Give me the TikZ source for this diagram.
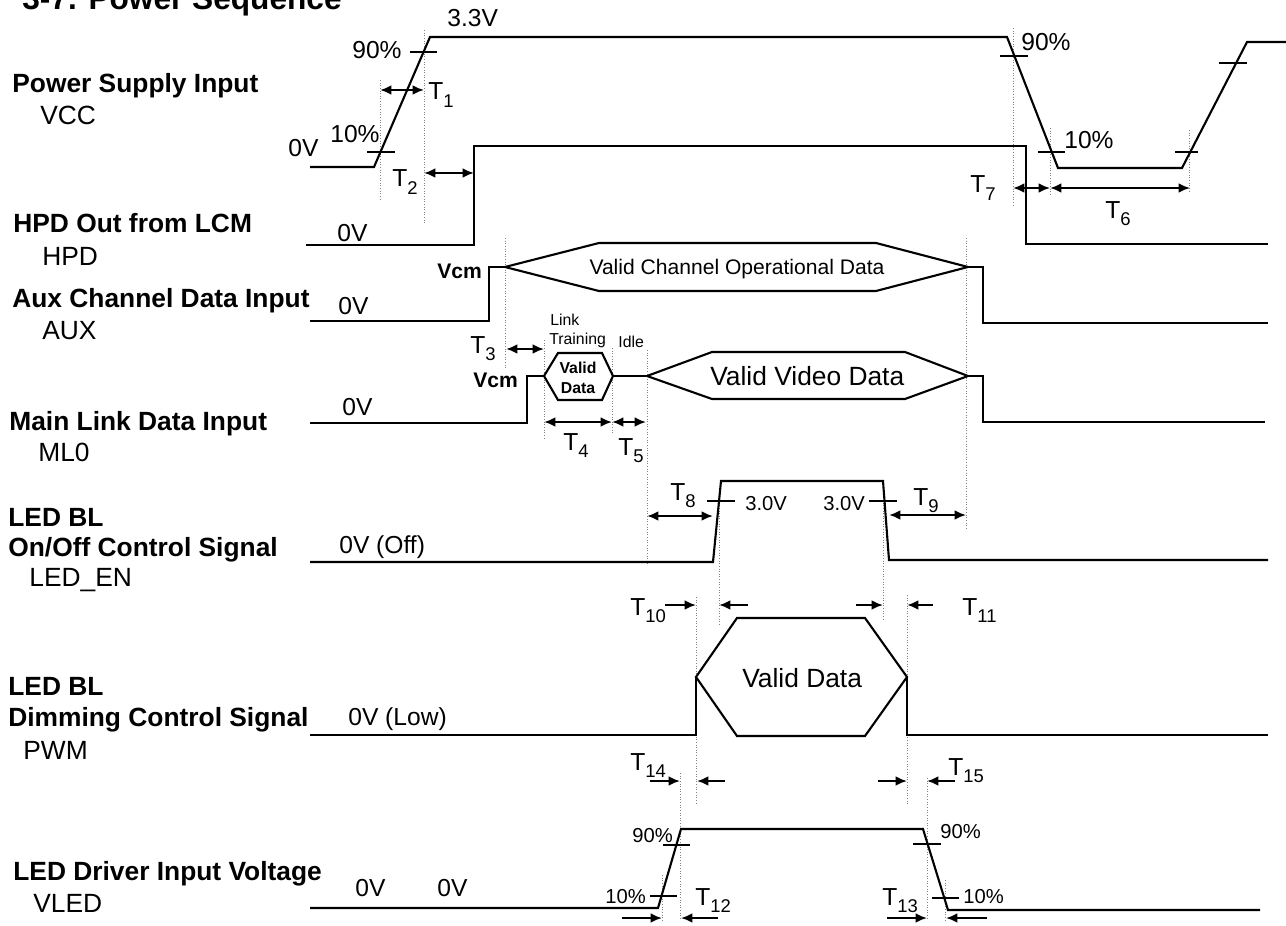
\documentclass[tikz,border=0pt]{standalone}
\usepackage{fontspec}
\setmainfont{Liberation Sans}
\usetikzlibrary{arrows.meta}

\newcommand{\tlab}[1]{T\raisebox{-4.5pt}{\fontsize{10.5}{11}\selectfont #1}}

\tikzset{
  sig/.style={line width=1.2pt},
  guide/.style={densely dotted, gray, line width=0.5pt},
  tick/.style={line width=1.1pt},
  dimboth/.style={{Latex[length=6.5pt,width=5.5pt]}-{Latex[length=6.5pt,width=5.5pt]}, line width=1.1pt},
  dimone/.style={-{Latex[length=6.5pt,width=5.5pt]}, line width=1.1pt},
  siglab/.style={anchor=base west, inner sep=0pt, font=\fontsize{15}{17}\selectfont\bfseries},
  sigid/.style={anchor=base west, inner sep=0pt, font=\fontsize{15}{17}\selectfont},
  vlab/.style={anchor=base west, inner sep=0pt, font=\fontsize{14}{16}\selectfont},
  pctlab/.style={anchor=base west, inner sep=0pt, font=\fontsize{11.5}{13}\selectfont},
  tinylab/.style={anchor=base west, inner sep=0pt, font=\fontsize{9}{10}\selectfont},
  tlabel/.style={anchor=base west, inner sep=0pt, font=\fontsize{14}{16}\selectfont},
}

\begin{document}
\begin{tikzpicture}[x=0.02cm, y=-0.02cm]
  \useasboundingbox (0,0) rectangle (1286,926);

  % Title (cut at the top edge)
  \node[anchor=base west, inner sep=0pt, font=\fontsize{18}{20}\selectfont\bfseries] (title) at (22,10) {3-7. Power Sequence};

  % Signal names
  \node[siglab] (nvcc) at (12,93) {Power Supply Input};
  \node[sigid]  (ivcc) at (40,125) {VCC};
  \node[siglab] (nhpd) at (13,233) {HPD Out from LCM};
  \node[sigid]  (ihpd) at (42,265) {HPD};
  \node[siglab] (naux) at (12,307) {Aux Channel Data Input};
  \node[sigid]  (iaux) at (42,339) {AUX};
  \node[siglab] (nml)  at (9,430) {Main Link Data Input};
  \node[sigid]  (iml)  at (38,461) {ML0};
  \node[siglab] (nen)  at (8,526) {LED BL};
  \node[siglab] (nen2) at (8,556) {On/Off Control Signal};
  \node[sigid]  (ien)  at (29,586) {LED\_EN};
  \node[siglab] (npwm) at (8,695) {LED BL};
  \node[siglab] (npwm2) at (8,726) {Dimming Control Signal};
  \node[sigid]  (ipwm) at (23,759) {PWM};
  \node[siglab] (nvled) at (13,880) {LED Driver Input Voltage};
  \node[sigid]  (ivled) at (33,912) {VLED};

  % Dotted guides
  \draw[guide] (380,80) -- (380,200);
  \draw[guide] (424,30) -- (424,225);
  \draw[guide] (1013,28) -- (1013,205);
  \draw[guide] (1050,128) -- (1050,195);
  \draw[guide] (1189,130) -- (1189,193);
  \draw[guide] (505,238) -- (505,368);
  \draw[guide] (966,238) -- (966,528);
  \draw[guide] (544,340) -- (544,440);
  \draw[guide] (612,348) -- (612,433);
  \draw[guide] (647,350) -- (647,565);
  \draw[guide] (719,500) -- (719,625);
  \draw[guide] (883,500) -- (883,620);
  \draw[guide] (696,597) -- (696,803);
  \draw[guide] (907,595) -- (907,805);
  \draw[guide] (680,773) -- (680,920);
  \draw[guide] (927,778) -- (927,920);
  \draw[guide] (662,875) -- (662,920);
  \draw[guide] (945,880) -- (945,920);

  % VCC
  \draw[sig] (310,167) -- (374,167) -- (430,37) -- (1007,37) -- (1058,168) -- (1182,168) -- (1247,42) -- (1286,42);
  \draw[tick] (410,52) -- (437,52);
  \draw[tick] (367,152) -- (395,152);
  \draw[tick] (1000,56) -- (1028,56);
  \draw[tick] (1038,152) -- (1065,152);
  \draw[tick] (1175,152) -- (1198,152);
  \draw[tick] (1219,63) -- (1247,63);
  \node[vlab] (v33) at (447,27) {3.3V};
  \node[vlab] (p90a) at (352,59) {90\%};
  \node[vlab] (p10a) at (330,143) {10\%};
  \node[vlab] (v0a) at (288,157) {0V};
  \node[vlab] (p90b) at (1021,51) {90\%};
  \node[vlab] (p10b) at (1064,149) {10\%};
  \draw[dimboth] (380,90) -- (424,90);
  \node[tlabel] (t1) at (428,100) {\tlab{1}};
  \draw[dimboth] (424,173) -- (474,173);
  \node[tlabel] (t2) at (392,187) {\tlab{2}};
  \draw[dimboth] (1013,188) -- (1050,188);
  \node[tlabel] (t7) at (970,193) {\tlab{7}};
  \draw[dimboth] (1050,188) -- (1190,188);
  \node[tlabel] (t6) at (1105,218) {\tlab{6}};

  % HPD
  \draw[sig] (306,245) -- (474,245) -- (474,146) -- (1026,146) -- (1026,244) -- (1268,244);
  \node[vlab] (v0b) at (337,241) {0V};

  % AUX
  \draw[sig] (310,321) -- (489,321) -- (489,267) -- (505,267);
  \draw[sig] (505,267) -- (599,243) -- (876,243) -- (968,267) -- (876,291) -- (599,291) -- cycle;
  \draw[sig] (968,267) -- (983,267) -- (983,323) -- (1268,323);
  \node[anchor=base west, inner sep=0pt, font=\fontsize{12}{14}\selectfont\bfseries] (vcma) at (437,278) {Vcm};
  \node[vlab] (v0c) at (338,315) {0V};
  \node[anchor=base, inner sep=0pt, font=\fontsize{12}{14}\selectfont] (auxd) at (737,275) {Valid Channel Operational Data};

  % ML0
  \draw[sig] (310,423) -- (527,423) -- (527,376) -- (544,376);
  \draw[sig] (544,376) -- (558,353) -- (602,353) -- (613,376) -- (602,400) -- (558,400) -- cycle;
  \draw[sig] (613,376) -- (647,376);
  \draw[sig] (647,376) -- (712,352) -- (905,352) -- (968,376) -- (905,399) -- (712,399) -- cycle;
  \draw[sig] (968,376) -- (983,376) -- (983,422) -- (1265,422);
  \node[anchor=base west, inner sep=0pt, font=\fontsize{12}{14}\selectfont\bfseries] (vcmb) at (473,387) {Vcm};
  \node[vlab] (v0d) at (342,415) {0V};
  \node[tinylab] (lnk) at (550,325) {Link};
  \node[tinylab] (trn) at (549,344) {Training};
  \node[tinylab] (idl) at (618,347) {Idle};
  \node[anchor=base, inner sep=0pt, font=\fontsize{9}{10}\selectfont\bfseries] (vd1) at (578,373) {Valid};
  \node[anchor=base, inner sep=0pt, font=\fontsize{9}{10}\selectfont\bfseries] (vd2) at (578,393) {Data};
  \node[anchor=base west, inner sep=0pt, font=\fontsize{15}{17}\selectfont] (vvd) at (710,385) {Valid Video Data};
  \draw[dimboth] (506,349) -- (544,349);
  \node[tlabel] (t3) at (470,353) {\tlab{3}};
  \draw[dimboth] (544,422) -- (612,422);
  \node[tlabel] (t4) at (563,450) {\tlab{4}};
  \draw[dimboth] (612,422) -- (646,422);
  \node[tlabel] (t5) at (618,455) {\tlab{5}};

  % LED_EN
  \draw[sig] (310,562) -- (713,562) -- (721,481) -- (883,481) -- (889,560) -- (1268,560);
  \draw[tick] (707,501) -- (735,501);
  \draw[tick] (869,501) -- (897,501);
  \node[pctlab] (v30a) at (745,510) {3.0V};
  \node[pctlab] (v30b) at (823,510) {3.0V};
  \node[vlab] (voff) at (339,553) {0V (Off)};
  \draw[dimboth] (647,516) -- (713,516);
  \node[tlabel] (t8) at (670,500) {\tlab{8}};
  \draw[dimboth] (889,515) -- (966,515);
  \node[tlabel] (t9) at (913,505) {\tlab{9}};

  % PWM
  \draw[sig] (310,735) -- (696,735) -- (696,677);
  \draw[sig] (696,677) -- (737,618) -- (865,618) -- (907,677) -- (865,736) -- (737,736) -- cycle;
  \draw[sig] (907,677) -- (907,735) -- (1268,735);
  \node[anchor=base west, inner sep=0pt, font=\fontsize{15}{17}\selectfont] (vdp) at (742,687) {Valid Data};
  \node[vlab] (vlow) at (348,725) {0V (Low)};
  \draw[dimone] (665,605) -- (696,605);
  \draw[dimone] (748,605) -- (719,605);
  \node[tlabel] (t10) at (630,615) {\tlab{10}};
  \draw[dimone] (856,605) -- (883,605);
  \draw[dimone] (933,605) -- (907,605);
  \node[tlabel] (t11) at (962,615) {\tlab{11}};
  \draw[dimone] (650,781) -- (680,781);
  \draw[dimone] (725,781) -- (697,781);
  \node[tlabel] (t14) at (630,770) {\tlab{14}};
  \draw[dimone] (878,781) -- (907,781);
  \draw[dimone] (955,781) -- (927,781);
  \node[tlabel] (t15) at (948,775) {\tlab{15}};

  % VLED
  \draw[sig] (310,908) -- (658,908) -- (681,829) -- (923,829) -- (948,910) -- (1260,910);
  \draw[tick] (663,845) -- (690,845);
  \draw[tick] (650,896) -- (677,896);
  \draw[tick] (913,844) -- (941,844);
  \draw[tick] (932,898) -- (959,898);
  \node[vlab] (v0e) at (355,896) {0V};
  \node[vlab] (v0f) at (437,896) {0V};
  \node[pctlab] (p90c) at (632,842) {90\%};
  \node[pctlab] (p10c) at (605,903) {10\%};
  \node[pctlab] (p90d) at (940,838) {90\%};
  \node[pctlab] (p10d) at (963,903) {10\%};
  \draw[dimone] (622,918) -- (662,918);
  \draw[dimone] (718,918) -- (681,918);
  \node[tlabel] (t12) at (695,905) {\tlab{12}};
  \draw[dimone] (887,918) -- (927,918);
  \draw[dimone] (987,918) -- (946,918);
  \node[tlabel] (t13) at (882,905) {\tlab{13}};
\end{tikzpicture}
\end{document}
